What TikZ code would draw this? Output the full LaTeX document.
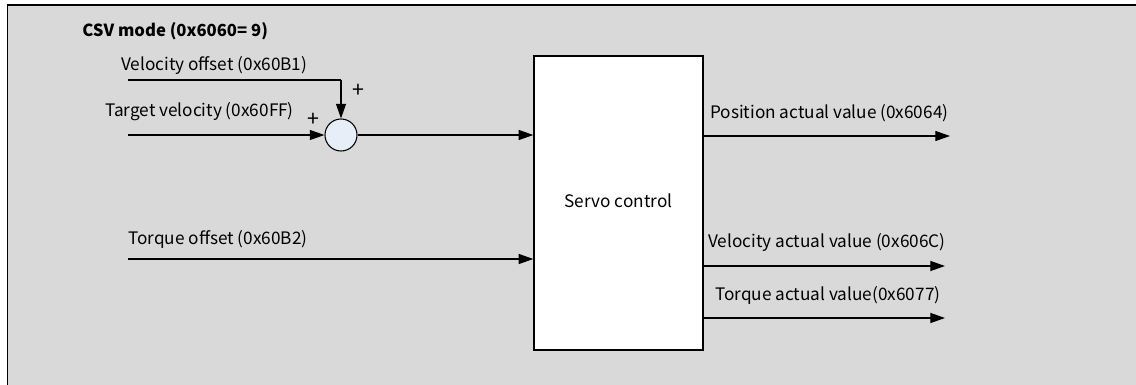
\documentclass[tikz,border=0pt]{standalone}
\usepackage{fontspec}
\setmainfont{Noto Sans CJK SC}
\usetikzlibrary{arrows.meta}
\definecolor{bggray}{HTML}{D9D9D9}
\definecolor{sumfill}{HTML}{E8EEF8}
\newcommand{\lblfont}{\fontsize{12.9}{15}\selectfont}
\tikzset{
  lbl/.style={font=\lblfont, inner sep=0pt, anchor=west},
  plussign/.style={font=\fontsize{16}{18}\selectfont, inner sep=0pt},
  sig/.style={line width=0.9pt, -{Triangle[length=11pt,width=7.5pt]}},
  wire/.style={line width=0.9pt},
  servobox/.style={draw, line width=1pt, fill=white, minimum width=169*0.75pt, minimum height=294*0.75pt, inner sep=0pt},
  sumnode/.style={circle, draw, line width=0.8pt, fill=sumfill, minimum size=32*0.75pt, inner sep=0pt}
}
\begin{document}
\begin{tikzpicture}[x=0.75pt,y=-0.75pt]
\useasboundingbox (0,0) rectangle (1136,385);
\fill[bggray] (7.5,5) rectangle (1136,385);
\draw[line width=1.2pt] (7.5,385) -- (7.5,5) -- (1136,5);
\node[lbl, font=\fontsize{12.5}{15}\selectfont\bfseries] (title) at (82,31) {CSV mode (0x6060= 9)};
\node[servobox] (servo) at (618.5,203) {};
\node[font=\lblfont] (servotxt) at (618.5,201) {Servo control};
\node[sumnode] (sum) at (341,135) {};
% inputs
\node[lbl] (vofftxt) at (121,65) {Velocity offset (0x60B1)};
\coordinate (voffstart) at (128,80);
\coordinate (voffcorner) at (341,80);
\draw[wire] (voffstart) -- (voffcorner);
\draw[sig] (voffcorner) -- (sum.north);
\node[plussign] (plus1) at (358,91) {+};
\node[lbl] (tveltxt) at (105,112) {Target velocity (0x60FF)};
\coordinate (tvelstart) at (128,135);
\draw[sig] (tvelstart) -- (sum.west);
\node[plussign] (plus2) at (313,120) {+};
\draw[sig] (sum.east) -- (servo.west |- sum.east);
\node[lbl] (tofftxt) at (128,239) {Torque offset (0x60B2)};
\coordinate (toffstart) at (128,259);
\draw[sig] (toffstart) -- (servo.west |- toffstart);
% outputs
\node[lbl] (postxt) at (710,113) {Position actual value (0x6064)};
\coordinate (posend) at (950,136);
\draw[sig] (servo.east |- posend) -- (posend);
\node[lbl] (veltxt) at (708,242) {Velocity actual value (0x606C)};
\coordinate (velend) at (945,266);
\draw[sig] (servo.east |- velend) -- (velend);
\node[lbl] (tqtxt) at (715,295) {Torque actual value(0x6077)};
\coordinate (tqend) at (945,318);
\draw[sig] (servo.east |- tqend) -- (tqend);
\end{tikzpicture}
\end{document}
